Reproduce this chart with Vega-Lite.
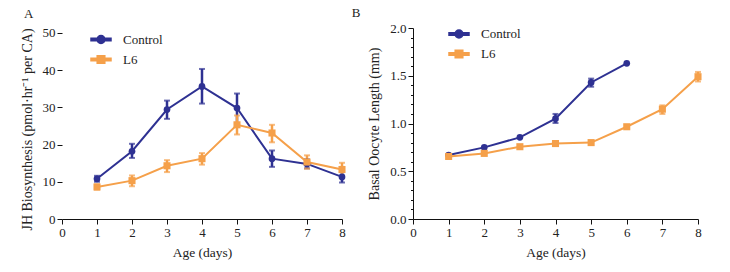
{
  "$schema": "https://vega.github.io/schema/vega-lite/v6.json",
  "background": "white",
  "padding": {"left": 20, "top": 7, "right": 5, "bottom": 5},
  "config": {
    "font": "Liberation Serif",
    "view": {"stroke": null},
    "axis": {
      "grid": false,
      "domainColor": "#111",
      "tickColor": "#111",
      "labelColor": "#222",
      "titleColor": "#222",
      "labelFont": "Liberation Serif",
      "titleFont": "Liberation Serif",
      "labelFontSize": 13,
      "titleFontWeight": "normal",
      "labelOverlap": false,
      "tickSize": 5
    },
    "legend": {"labelFont": "Liberation Serif", "labelFontSize": 13, "labelColor": "#222", "symbolOpacity": 1},
    "title": {"font": "Liberation Serif", "fontSize": 13, "fontWeight": "normal", "color": "#222"}
  },
  "datasets": {
    "jh": [
      {"age": 1, "group": "Control", "value": 10.8, "lo": 10.0, "hi": 11.6},
      {"age": 2, "group": "Control", "value": 18.2, "lo": 16.4, "hi": 20.2},
      {"age": 3, "group": "Control", "value": 29.4, "lo": 26.9, "hi": 31.8},
      {"age": 4, "group": "Control", "value": 35.6, "lo": 31.0, "hi": 40.3},
      {"age": 5, "group": "Control", "value": 29.8, "lo": 25.6, "hi": 33.7},
      {"age": 6, "group": "Control", "value": 16.2, "lo": 14.0, "hi": 18.4},
      {"age": 7, "group": "Control", "value": 14.8, "lo": 13.6, "hi": 16.0},
      {"age": 8, "group": "Control", "value": 11.3, "lo": 9.8, "hi": 12.6},
      {"age": 1, "group": "L6", "value": 8.6, "lo": 7.9, "hi": 9.3},
      {"age": 2, "group": "L6", "value": 10.3, "lo": 8.8, "hi": 11.7},
      {"age": 3, "group": "L6", "value": 14.3, "lo": 12.6, "hi": 15.8},
      {"age": 4, "group": "L6", "value": 16.2, "lo": 14.6, "hi": 17.7},
      {"age": 5, "group": "L6", "value": 25.3, "lo": 22.7, "hi": 27.8},
      {"age": 6, "group": "L6", "value": 23.1, "lo": 20.6, "hi": 25.3},
      {"age": 7, "group": "L6", "value": 15.3, "lo": 13.5, "hi": 17.1},
      {"age": 8, "group": "L6", "value": 13.3, "lo": 11.5, "hi": 15.1}
    ],
    "oocyte": [
      {"age": 1, "group": "Control", "value": 0.67},
      {"age": 2, "group": "Control", "value": 0.75},
      {"age": 3, "group": "Control", "value": 0.855},
      {"age": 4, "group": "Control", "value": 1.05, "lo": 1.005, "hi": 1.10},
      {"age": 5, "group": "Control", "value": 1.43, "lo": 1.385, "hi": 1.47},
      {"age": 6, "group": "Control", "value": 1.63},
      {"age": 1, "group": "L6", "value": 0.655},
      {"age": 2, "group": "L6", "value": 0.687},
      {"age": 3, "group": "L6", "value": 0.757},
      {"age": 4, "group": "L6", "value": 0.79},
      {"age": 5, "group": "L6", "value": 0.80},
      {"age": 6, "group": "L6", "value": 0.966},
      {"age": 7, "group": "L6", "value": 1.15, "lo": 1.10, "hi": 1.19},
      {"age": 8, "group": "L6", "value": 1.49, "lo": 1.44, "hi": 1.54}
    ]
  },
  "spacing": 5,
  "resolve": {"scale": {"color": "independent", "shape": "independent", "y": "independent"}, "legend": {"color": "independent", "shape": "independent"}},
  "hconcat": [
    {
      "title": {"text": "A", "anchor": "start", "frame": "bounds", "dx": 4, "offset": 6},
      "width": 280,
      "height": 191,
      "data": {"name": "jh"},
      "encoding": {
        "x": {"field": "age", "type": "quantitative", "scale": {"domain": [0, 8], "nice": false},
          "axis": {"values": [0,1,2,3,4,5,6,7,8], "title": "Age (days)", "titleFontSize": 13.5, "labelPadding": 2, "titlePadding": 6, "labelFlush": false, "labelOverlap": false}}
      },
      "layer": [
        {
          "mark": {"type": "line", "strokeWidth": 2},
          "encoding": {
            "y": {"field": "value", "type": "quantitative", "scale": {"domain": [0, 51.3], "nice": false, "zero": true},
              "axis": {"values": [0,10,20,30,40,50], "domain": false, "labelOverlap": false, "title": "JH Biosynthesis (pmol·hr⁻¹ per CA)", "titleFontSize": 14, "labelPadding": 2, "titlePadding": 8, "titleY": 101}},
            "color": {"field": "group", "type": "nominal", "scale": {"domain": ["Control", "L6"], "range": ["#2e3192", "#f5a04a"]},
              "legend": {"title": null, "orient": "none", "legendX": 28, "legendY": 0.5, "symbolSize": 400, "labelOffset": 11, "rowPadding": 2, "padding": 0, "symbolOpacity": 1}}
          }
        },
        {
          "transform": [{"filter": "isValid(datum.lo)"}],
          "mark": {"type": "rule", "strokeWidth": 2.5},
          "encoding": {
            "y": {"field": "lo", "type": "quantitative",
              "axis": {"values": [0,10,20,30,40,50], "domain": false, "labelOverlap": false, "title": "JH Biosynthesis (pmol·hr⁻¹ per CA)", "titleFontSize": 14, "labelPadding": 2, "titlePadding": 8, "titleY": 101}},
            "y2": {"field": "hi"},
            "color": {"field": "group", "type": "nominal",
              "legend": {"title": null, "orient": "none", "legendX": 28, "legendY": 0.5, "symbolSize": 400, "labelOffset": 11, "rowPadding": 2, "padding": 0, "symbolOpacity": 1}}
          }
        },
        {
          "transform": [{"filter": "isValid(datum.lo)"}],
          "mark": {"type": "tick", "orient": "horizontal", "size": 6, "thickness": 2},
          "encoding": {
            "y": {"field": "lo", "type": "quantitative",
              "axis": {"values": [0,10,20,30,40,50], "domain": false, "labelOverlap": false, "title": "JH Biosynthesis (pmol·hr⁻¹ per CA)", "titleFontSize": 14, "labelPadding": 2, "titlePadding": 8, "titleY": 101}},
            "color": {"field": "group", "type": "nominal",
              "legend": {"title": null, "orient": "none", "legendX": 28, "legendY": 0.5, "symbolSize": 400, "labelOffset": 11, "rowPadding": 2, "padding": 0, "symbolOpacity": 1}}
          }
        },
        {
          "transform": [{"filter": "isValid(datum.hi)"}],
          "mark": {"type": "tick", "orient": "horizontal", "size": 6, "thickness": 2},
          "encoding": {
            "y": {"field": "hi", "type": "quantitative",
              "axis": {"values": [0,10,20,30,40,50], "domain": false, "labelOverlap": false, "title": "JH Biosynthesis (pmol·hr⁻¹ per CA)", "titleFontSize": 14, "labelPadding": 2, "titlePadding": 8, "titleY": 101}},
            "color": {"field": "group", "type": "nominal",
              "legend": {"title": null, "orient": "none", "legendX": 28, "legendY": 0.5, "symbolSize": 400, "labelOffset": 11, "rowPadding": 2, "padding": 0, "symbolOpacity": 1}}
          }
        },
        {
          "transform": [{"filter": "datum.group === 'Control'"}],
          "mark": {"type": "point", "shape": "circle", "filled": true, "opacity": 1, "size": 45},
          "encoding": {
            "y": {"field": "value", "type": "quantitative",
              "axis": {"values": [0,10,20,30,40,50], "domain": false, "labelOverlap": false, "title": "JH Biosynthesis (pmol·hr⁻¹ per CA)", "titleFontSize": 14, "labelPadding": 2, "titlePadding": 8, "titleY": 101}},
            "color": {"field": "group", "type": "nominal",
              "legend": {"title": null, "orient": "none", "legendX": 28, "legendY": 0.5, "symbolSize": 400, "labelOffset": 11, "rowPadding": 2, "padding": 0, "symbolOpacity": 1}}
          }
        },
        {
          "transform": [{"filter": "datum.group === 'L6'"}],
          "mark": {"type": "point", "shape": "square", "filled": true, "opacity": 1, "size": 50},
          "encoding": {
            "y": {"field": "value", "type": "quantitative",
              "axis": {"values": [0,10,20,30,40,50], "domain": false, "labelOverlap": false, "title": "JH Biosynthesis (pmol·hr⁻¹ per CA)", "titleFontSize": 14, "labelPadding": 2, "titlePadding": 8, "titleY": 101}},
            "color": {"field": "group", "type": "nominal",
              "legend": {"title": null, "orient": "none", "legendX": 28, "legendY": 0.5, "symbolSize": 400, "labelOffset": 11, "rowPadding": 2, "padding": 0, "symbolOpacity": 1}}
          }
        },
        {
          "transform": [{"filter": "false"}],
          "mark": {"type": "point", "filled": true, "opacity": 1, "size": 400},
          "encoding": {
            "y": {"field": "value", "type": "quantitative",
              "axis": {"values": [0,10,20,30,40,50], "domain": false, "labelOverlap": false, "title": "JH Biosynthesis (pmol·hr⁻¹ per CA)", "titleFontSize": 14, "labelPadding": 2, "titlePadding": 8, "titleY": 101}},
            "color": {"field": "group", "type": "nominal",
              "legend": {"title": null, "orient": "none", "legendX": 28, "legendY": 0.5, "symbolSize": 400, "labelOffset": 11, "rowPadding": 2, "padding": 0, "symbolOpacity": 1}},
            "shape": {"field": "group", "type": "nominal", "scale": {"domain": ["Control", "L6"], "range": [
              "M-1,-0.12H1V0.12H-1Z M-0.4,0A0.4,0.4 0 1,1 0.4,0A0.4,0.4 0 1,1 -0.4,0Z",
              "M-1,-0.12H1V0.12H-1Z M-0.38,-0.38H0.38V0.38H-0.38Z"]},
              "legend": {"title": null, "orient": "none", "legendX": 28, "legendY": 0.5, "symbolSize": 400, "labelOffset": 11, "rowPadding": 2, "padding": 0, "symbolOpacity": 1}}
          }
        },
        {
          "data": {"values": [{}]},
          "mark": {"type": "rule", "color": "#111", "strokeWidth": 1},
          "encoding": {"x": {"datum": 0},
            "y": {"datum": 0, "type": "quantitative",
              "axis": {"values": [0,10,20,30,40,50], "domain": false, "labelOverlap": false, "title": "JH Biosynthesis (pmol·hr⁻¹ per CA)", "titleFontSize": 14, "labelPadding": 2, "titlePadding": 8, "titleY": 101}},
            "y2": {"datum": 50}}
        }
      ]
    },
    {
      "title": {"text": "B", "anchor": "start", "frame": "bounds", "dx": -16, "dy": 4, "offset": 6},
      "width": 285,
      "height": 191,
      "data": {"name": "oocyte"},
      "encoding": {
        "x": {"field": "age", "type": "quantitative", "scale": {"domain": [0, 8], "nice": false},
          "axis": {"values": [0,1,2,3,4,5,6,7,8], "title": "Age (days)", "titleFontSize": 13.5, "labelPadding": 2, "titlePadding": 6, "labelFlush": false, "labelOverlap": false}}
      },
      "layer": [
        {
          "mark": {"type": "line", "strokeWidth": 2},
          "encoding": {
            "y": {"field": "value", "type": "quantitative", "scale": {"domain": [0, 2], "nice": false},
              "axis": {"values": [0,0.1,0.2,0.3,0.4,0.5,0.6,0.7,0.8,0.9,1.0,1.1,1.2,1.3,1.4,1.5,1.6,1.7,1.8,1.9,2.0], "labelOverlap": false, "labelExpr": "abs(datum.value*2 - round(datum.value*2)) < 0.001 ? format(datum.value, '.1f') : ''", "tickSize": {"condition": {"test": "abs(datum.value*2 - round(datum.value*2)) < 0.001", "value": 5}, "value": 2.5}, "title": "Basal Oocyte Length (mm)", "titleFontSize": 14, "labelPadding": 2, "titlePadding": 8}},
            "color": {"field": "group", "type": "nominal", "scale": {"domain": ["Control", "L6"], "range": ["#2e3192", "#f5a04a"]},
              "legend": {"title": null, "orient": "none", "legendX": 35, "legendY": -5, "symbolSize": 400, "labelOffset": 11, "rowPadding": 2, "padding": 0, "symbolOpacity": 1}}
          }
        },
        {
          "transform": [{"filter": "isValid(datum.lo)"}],
          "mark": {"type": "rule", "strokeWidth": 2.5},
          "encoding": {
            "y": {"field": "lo", "type": "quantitative",
              "axis": {"values": [0,0.1,0.2,0.3,0.4,0.5,0.6,0.7,0.8,0.9,1.0,1.1,1.2,1.3,1.4,1.5,1.6,1.7,1.8,1.9,2.0], "labelOverlap": false, "labelExpr": "abs(datum.value*2 - round(datum.value*2)) < 0.001 ? format(datum.value, '.1f') : ''", "tickSize": {"condition": {"test": "abs(datum.value*2 - round(datum.value*2)) < 0.001", "value": 5}, "value": 2.5}, "title": "Basal Oocyte Length (mm)", "titleFontSize": 14, "labelPadding": 2, "titlePadding": 8}},
            "y2": {"field": "hi"},
            "color": {"field": "group", "type": "nominal",
              "legend": {"title": null, "orient": "none", "legendX": 35, "legendY": -5, "symbolSize": 400, "labelOffset": 11, "rowPadding": 2, "padding": 0, "symbolOpacity": 1}}
          }
        },
        {
          "transform": [{"filter": "isValid(datum.lo)"}],
          "mark": {"type": "tick", "orient": "horizontal", "size": 6, "thickness": 2},
          "encoding": {
            "y": {"field": "lo", "type": "quantitative",
              "axis": {"values": [0,0.1,0.2,0.3,0.4,0.5,0.6,0.7,0.8,0.9,1.0,1.1,1.2,1.3,1.4,1.5,1.6,1.7,1.8,1.9,2.0], "labelOverlap": false, "labelExpr": "abs(datum.value*2 - round(datum.value*2)) < 0.001 ? format(datum.value, '.1f') : ''", "tickSize": {"condition": {"test": "abs(datum.value*2 - round(datum.value*2)) < 0.001", "value": 5}, "value": 2.5}, "title": "Basal Oocyte Length (mm)", "titleFontSize": 14, "labelPadding": 2, "titlePadding": 8}},
            "color": {"field": "group", "type": "nominal",
              "legend": {"title": null, "orient": "none", "legendX": 35, "legendY": -5, "symbolSize": 400, "labelOffset": 11, "rowPadding": 2, "padding": 0, "symbolOpacity": 1}}
          }
        },
        {
          "transform": [{"filter": "isValid(datum.hi)"}],
          "mark": {"type": "tick", "orient": "horizontal", "size": 6, "thickness": 2},
          "encoding": {
            "y": {"field": "hi", "type": "quantitative",
              "axis": {"values": [0,0.1,0.2,0.3,0.4,0.5,0.6,0.7,0.8,0.9,1.0,1.1,1.2,1.3,1.4,1.5,1.6,1.7,1.8,1.9,2.0], "labelOverlap": false, "labelExpr": "abs(datum.value*2 - round(datum.value*2)) < 0.001 ? format(datum.value, '.1f') : ''", "tickSize": {"condition": {"test": "abs(datum.value*2 - round(datum.value*2)) < 0.001", "value": 5}, "value": 2.5}, "title": "Basal Oocyte Length (mm)", "titleFontSize": 14, "labelPadding": 2, "titlePadding": 8}},
            "color": {"field": "group", "type": "nominal",
              "legend": {"title": null, "orient": "none", "legendX": 35, "legendY": -5, "symbolSize": 400, "labelOffset": 11, "rowPadding": 2, "padding": 0, "symbolOpacity": 1}}
          }
        },
        {
          "transform": [{"filter": "datum.group === 'Control'"}],
          "mark": {"type": "point", "shape": "circle", "filled": true, "opacity": 1, "size": 45},
          "encoding": {
            "y": {"field": "value", "type": "quantitative",
              "axis": {"values": [0,0.1,0.2,0.3,0.4,0.5,0.6,0.7,0.8,0.9,1.0,1.1,1.2,1.3,1.4,1.5,1.6,1.7,1.8,1.9,2.0], "labelOverlap": false, "labelExpr": "abs(datum.value*2 - round(datum.value*2)) < 0.001 ? format(datum.value, '.1f') : ''", "tickSize": {"condition": {"test": "abs(datum.value*2 - round(datum.value*2)) < 0.001", "value": 5}, "value": 2.5}, "title": "Basal Oocyte Length (mm)", "titleFontSize": 14, "labelPadding": 2, "titlePadding": 8}},
            "color": {"field": "group", "type": "nominal",
              "legend": {"title": null, "orient": "none", "legendX": 35, "legendY": -5, "symbolSize": 400, "labelOffset": 11, "rowPadding": 2, "padding": 0, "symbolOpacity": 1}}
          }
        },
        {
          "transform": [{"filter": "datum.group === 'L6'"}],
          "mark": {"type": "point", "shape": "square", "filled": true, "opacity": 1, "size": 50},
          "encoding": {
            "y": {"field": "value", "type": "quantitative",
              "axis": {"values": [0,0.1,0.2,0.3,0.4,0.5,0.6,0.7,0.8,0.9,1.0,1.1,1.2,1.3,1.4,1.5,1.6,1.7,1.8,1.9,2.0], "labelOverlap": false, "labelExpr": "abs(datum.value*2 - round(datum.value*2)) < 0.001 ? format(datum.value, '.1f') : ''", "tickSize": {"condition": {"test": "abs(datum.value*2 - round(datum.value*2)) < 0.001", "value": 5}, "value": 2.5}, "title": "Basal Oocyte Length (mm)", "titleFontSize": 14, "labelPadding": 2, "titlePadding": 8}},
            "color": {"field": "group", "type": "nominal",
              "legend": {"title": null, "orient": "none", "legendX": 35, "legendY": -5, "symbolSize": 400, "labelOffset": 11, "rowPadding": 2, "padding": 0, "symbolOpacity": 1}}
          }
        },
        {
          "transform": [{"filter": "false"}],
          "mark": {"type": "point", "filled": true, "opacity": 1, "size": 400},
          "encoding": {
            "y": {"field": "value", "type": "quantitative",
              "axis": {"values": [0,0.1,0.2,0.3,0.4,0.5,0.6,0.7,0.8,0.9,1.0,1.1,1.2,1.3,1.4,1.5,1.6,1.7,1.8,1.9,2.0], "labelOverlap": false, "labelExpr": "abs(datum.value*2 - round(datum.value*2)) < 0.001 ? format(datum.value, '.1f') : ''", "tickSize": {"condition": {"test": "abs(datum.value*2 - round(datum.value*2)) < 0.001", "value": 5}, "value": 2.5}, "title": "Basal Oocyte Length (mm)", "titleFontSize": 14, "labelPadding": 2, "titlePadding": 8}},
            "color": {"field": "group", "type": "nominal",
              "legend": {"title": null, "orient": "none", "legendX": 35, "legendY": -5, "symbolSize": 400, "labelOffset": 11, "rowPadding": 2, "padding": 0, "symbolOpacity": 1}},
            "shape": {"field": "group", "type": "nominal", "scale": {"domain": ["Control", "L6"], "range": [
              "M-1,-0.12H1V0.12H-1Z M-0.4,0A0.4,0.4 0 1,1 0.4,0A0.4,0.4 0 1,1 -0.4,0Z",
              "M-1,-0.12H1V0.12H-1Z M-0.38,-0.38H0.38V0.38H-0.38Z"]},
              "legend": {"title": null, "orient": "none", "legendX": 35, "legendY": -5, "symbolSize": 400, "labelOffset": 11, "rowPadding": 2, "padding": 0, "symbolOpacity": 1}}
          }
        }
      ]
    }
  ]
}
